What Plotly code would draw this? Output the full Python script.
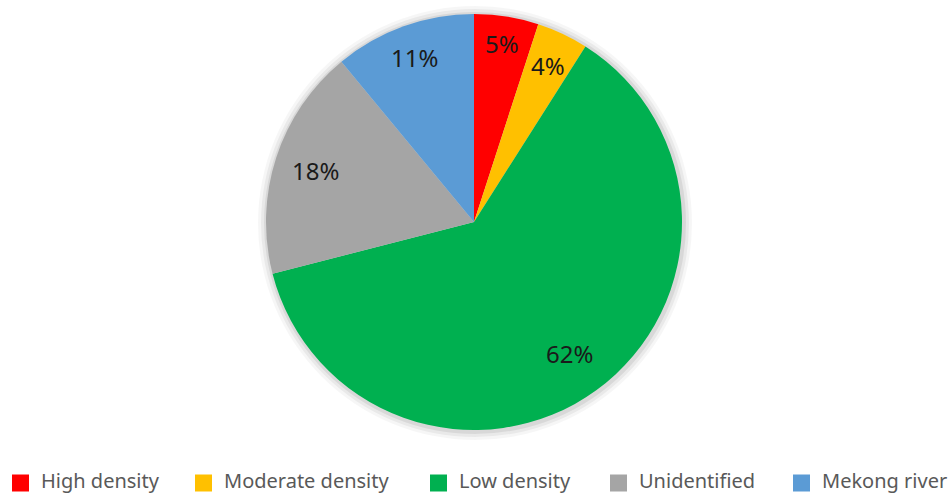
import math
import plotly.graph_objects as go

categories = ["High density", "Moderate density", "Low density", "Unidentified", "Mekong river"]
shares = [5, 4, 62, 18, 11]
colors = ["#FF0000", "#FFC000", "#00B050", "#A5A5A5", "#5B9BD5"]

# Radial position of each percentage label, as a fraction of the pie radius
label_radius = [0.87, 0.83, 0.78, 0.80, 0.84]

# Left edge of each legend swatch (px) and the swatch-to-text offset
legend_x = [12, 195, 430, 610, 793]
swatch = 17
text_gap = 28

W, H = 952, 495
cx, cy, R = 474, 222, 208  # pie centre and radius in pixels
FONT = "Noto Sans, Open Sans, sans-serif"

dom_x = [(cx - R) / W, (cx + R) / W]
dom_y = [1 - (cy + R) / H, 1 - (cy - R) / H]

fig = go.Figure()
fig.add_trace(go.Pie(
    labels=categories,
    values=shares,
    sort=False,
    direction="clockwise",
    rotation=0,
    marker=dict(colors=colors, line=dict(width=0)),
    textinfo="none",
    hoverinfo="label+percent",
    domain=dict(x=dom_x, y=dom_y),
    showlegend=False,
))

# Soft shadow ring around the pie
shapes = []
for grow, alpha in [(9, 0.035), (6, 0.05), (3, 0.07)]:
    r = R + grow
    shapes.append(dict(
        type="circle", xref="paper", yref="paper", layer="below",
        x0=(cx - r + 1) / W, x1=(cx + r + 1) / W,
        y0=1 - (cy + r + 1) / H, y1=1 - (cy - r + 1) / H,
        fillcolor=f"rgba(0,0,0,{alpha})", line=dict(width=0),
    ))

# Percentage labels placed at each slice's mid-angle
total = sum(shares)
annotations = []
cum = 0
for v, f in zip(shares, label_radius):
    mid = (cum + v / 2) / total * 2 * math.pi
    cum += v
    px = cx + f * R * math.sin(mid)
    py = cy - f * R * math.cos(mid)
    annotations.append(dict(
        x=px / W, y=1 - py / H, xref="paper", yref="paper",
        text=f"{round(v / total * 100)}%", showarrow=False,
        font=dict(family=FONT, size=24, color="#1a1a1a"),
        xanchor="center", yanchor="middle",
    ))

# Legend row along the bottom: coloured swatch followed by category name
sq_y = 483
for name, col, lx in zip(categories, colors, legend_x):
    shapes.append(dict(
        type="rect", xref="paper", yref="paper",
        x0=lx / W, x1=(lx + swatch) / W,
        y0=1 - (sq_y + swatch / 2) / H, y1=1 - (sq_y - swatch / 2) / H,
        fillcolor=col, line=dict(width=0),
    ))
    annotations.append(dict(
        x=(lx + text_gap - 1) / W, y=1 - 480 / H, xref="paper", yref="paper",
        text=name, showarrow=False,
        font=dict(family=FONT, size=20, color="#595959"),
        xanchor="left", yanchor="middle",
    ))

fig.update_layout(
    width=W, height=H,
    margin=dict(l=0, r=0, t=0, b=0),
    paper_bgcolor="white",
    plot_bgcolor="white",
    showlegend=False,
    shapes=shapes,
    annotations=annotations,
)

fig.write_html("out.html")
